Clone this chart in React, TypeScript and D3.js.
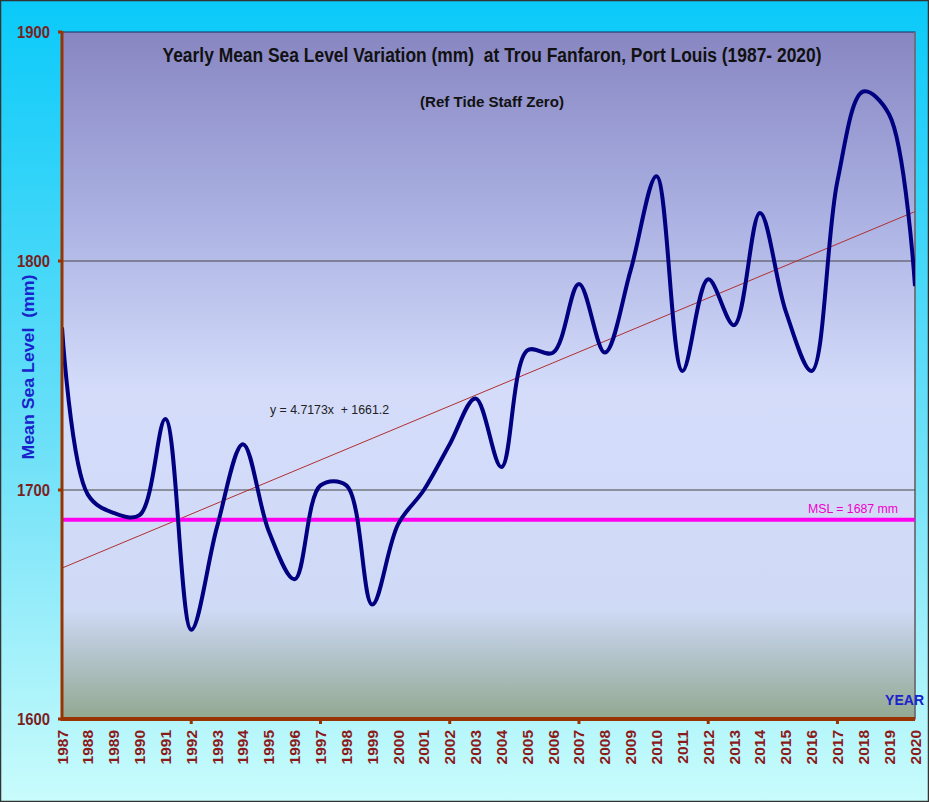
import React from "react";
import * as d3 from "d3";

const years = d3.range(1987, 2021).map(String);
const seaLevel = [
  1771, 1698, 1690, 1689, 1731, 1639, 1684, 1720, 1682, 1661,
  1702, 1702, 1650, 1685, 1700, 1720, 1740, 1710, 1761, 1760,
  1790, 1760, 1796, 1837, 1752, 1792, 1772, 1821, 1778, 1752,
  1835, 1874, 1864, 1789,
];
const yTicks = [1600, 1700, 1800, 1900];
const gridValues = [1700, 1800];
const trendSlope = 4.7173;
const trendIntercept = 1661.2;
const mslValue = 1687;

const W = 929;
const H = 802;
const M = { left: 62, right: 915, top: 32, bottom: 719 };

export default function App() {
  const x = d3.scalePoint<string>().domain(years).range([M.left, M.right]);
  const y = d3.scaleLinear().domain([1600, 1900]).range([M.bottom, M.top]);

  const pts: [number, number][] = years.map((yr, i) => [x(yr)!, y(seaLevel[i])]);
  const line = d3.line().curve(d3.curveCatmullRom.alpha(0.5))(pts) || "";

  const tx0 = x(years[0])!;
  const tx1 = x(years[years.length - 1])!;
  const ty0 = y(trendIntercept + trendSlope * 1);
  const ty1 = y(trendIntercept + trendSlope * years.length);

  const font = "'Liberation Sans', Arial, sans-serif";

  return (
    <svg width={W} height={H} style={{ position: "absolute", left: 0, top: 0 }} fontFamily={font}>
      <defs>
        <linearGradient id="outer" x1="0" y1="0" x2="0" y2="1">
          <stop offset="0%" stopColor="#0ACAF9" />
          <stop offset="55%" stopColor="#6CE0F8" />
          <stop offset="100%" stopColor="#C9FCFC" />
        </linearGradient>
        <linearGradient id="plot" x1="0" y1="0" x2="0" y2="1">
          <stop offset="0%" stopColor="#8886C2" />
          <stop offset="25%" stopColor="#A8AEE0" />
          <stop offset="52%" stopColor="#D4DCFA" />
          <stop offset="84%" stopColor="#CFDAF6" />
          <stop offset="90%" stopColor="#B6C6D0" />
          <stop offset="100%" stopColor="#92A890" />
        </linearGradient>
        <clipPath id="clip">
          <rect x={M.left} y={M.top} width={M.right - M.left} height={M.bottom - M.top} />
        </clipPath>
      </defs>
      <rect x={0.5} y={0.5} width={W - 1} height={H - 1} fill="url(#outer)" stroke="#333" strokeWidth={1.5} />
      <rect x={M.left} y={M.top} width={M.right - M.left} height={M.bottom - M.top} fill="url(#plot)" stroke="#1a2a5a" strokeWidth={1} />
      <line x1={M.right} x2={M.right} y1={M.top} y2={M.bottom} stroke="#777" strokeWidth={1.5} />

      {gridValues.map((v) => (
        <line key={v} x1={M.left} x2={M.right} y1={y(v)} y2={y(v)} stroke="#444" strokeWidth={1} />
      ))}

      <g clipPath="url(#clip)">
        <line x1={tx0} y1={ty0} x2={tx1} y2={ty1} stroke="#B03030" strokeWidth={1} />
        <line x1={M.left} x2={M.right} y1={y(mslValue)} y2={y(mslValue)} stroke="#FF00EE" strokeWidth={4} />
        <path d={line} fill="none" stroke="#000080" strokeWidth={4} strokeLinejoin="round" />
      </g>

      {/* axes */}
      <line x1={M.left} x2={M.left} y1={M.top - 1} y2={M.bottom + 2} stroke="#993300" strokeWidth={3} />
      <line x1={M.left - 1} x2={M.right} y1={M.bottom} y2={M.bottom} stroke="#993300" strokeWidth={4} />
      {yTicks.map((v) => (
        <g key={v}>
          <line x1={M.left - 4} x2={M.left} y1={y(v)} y2={y(v)} stroke="#993300" strokeWidth={3} />
          <text x={50} y={y(v)} dy="0.35em" textAnchor="end" fontSize={17} fontWeight="bold" fill="#7A1F1F" textLength={33} lengthAdjust="spacingAndGlyphs">
            {v}
          </text>
        </g>
      ))}
      {years.map((yr, i) => (
        <g key={yr}>
          {i % 5 === 0 && i > 0 && i < years.length - 1 && (
            <line x1={x(yr)} x2={x(yr)} y1={M.bottom} y2={M.bottom + 5} stroke="#993300" strokeWidth={3} />
          )}
          <text
            transform={`translate(${x(yr)! + 5.5},${730}) rotate(-90)`}
            textAnchor="end"
            fontSize={15.5}
            fontWeight="bold"
            fill="#8B1A1A"
          >
            {yr}
          </text>
        </g>
      ))}

      <text transform={`translate(34,${367}) rotate(-90)`} textAnchor="middle" fontSize={16} fontWeight="bold" fill="#1A22CC" textLength={185} lengthAdjust="spacingAndGlyphs" style={{ whiteSpace: "pre" }}>
        Mean Sea Level  (mm)
      </text>
      <text x={924} y={705} textAnchor="end" fontSize={14} fontWeight="bold" fill="#1A22CC">
        YEAR
      </text>

      <text x={492} y={62} textAnchor="middle" fontSize={19.5} fontWeight="bold" fill="#111" textLength={659} lengthAdjust="spacingAndGlyphs" style={{ whiteSpace: "pre" }}>
        Yearly Mean Sea Level Variation (mm)  at Trou Fanfaron, Port Louis (1987- 2020)
      </text>
      <text x={492} y={107} textAnchor="middle" fontSize={15} fontWeight="bold" fill="#111" textLength={144} lengthAdjust="spacingAndGlyphs">
        (Ref Tide Staff Zero)
      </text>
      <text x={270} y={414} fontSize={13.5} fill="#222" textLength={119} lengthAdjust="spacingAndGlyphs" style={{ whiteSpace: "pre" }}>
        y = 4.7173x  + 1661.2
      </text>
      <text x={898} y={513} textAnchor="end" fontSize={12.5} fill="#EE00CC" textLength={90} lengthAdjust="spacingAndGlyphs">
        MSL = 1687 mm
      </text>
    </svg>
  );
}
